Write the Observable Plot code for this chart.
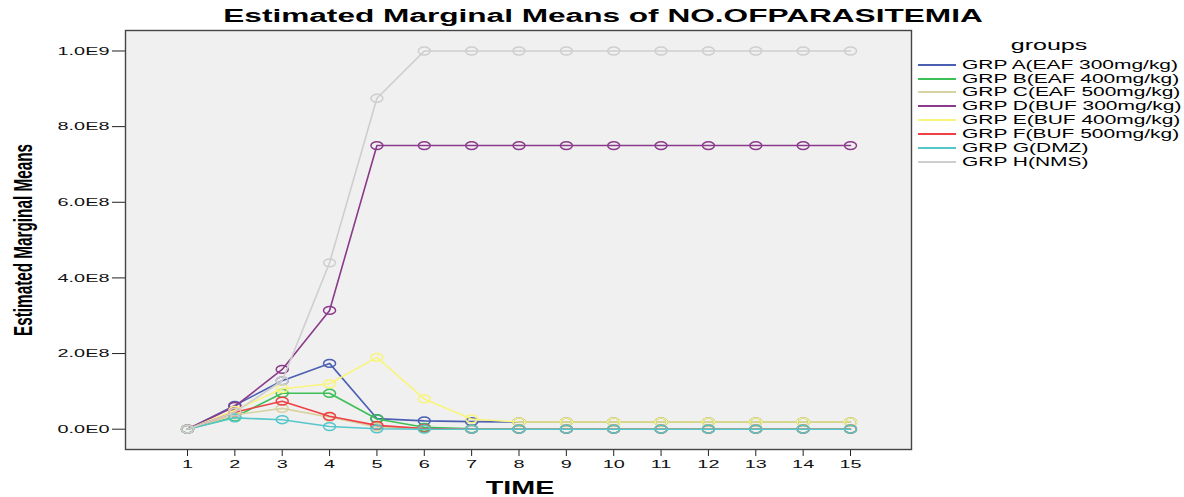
<!DOCTYPE html>
<html><head><meta charset="utf-8">
<script src="https://cdn.jsdelivr.net/npm/d3@7"></script>
<script src="https://cdn.jsdelivr.net/npm/@observablehq/plot@0.6"></script>
<style>
html,body{margin:0;padding:0;background:#fff;}
#wrap{position:relative;width:1184px;height:497px;overflow:hidden;font-family:"Liberation Sans",Arial,sans-serif;}
#wrap svg{position:absolute;left:0;top:0;}
.t{position:absolute;white-space:nowrap;line-height:1;display:inline-block;color:#000;}
.sw{position:absolute;height:2px;}
</style></head><body><div id="wrap"></div>
<script>
// ---- data ----
const times = [1,2,3,4,5,6,7,8,9,10,11,12,13,14,15];
const groups = ["GRP A(EAF 300mg/kg)","GRP B(EAF 400mg/kg)","GRP C(EAF 500mg/kg)","GRP D(BUF 300mg/kg)","GRP E(BUF 400mg/kg)","GRP F(BUF 500mg/kg)","GRP G(DMZ)","GRP H(NMS)"];
const colors = ["#4A5FB2","#3CBF55","#D8D3A2","#8A3A8B","#F8F47C","#EF4045","#55C6C9","#CECECE"];
const grpA = [0,0.63e8,1.28e8,1.74e8,0.28e8,0.22e8,0.20e8,0.19e8,0.19e8,0.19e8,0.19e8,0.19e8,0.19e8,0.19e8,0.19e8];
const grpB = [0,0.32e8,0.95e8,0.95e8,0.27e8,0.05e8,0.01e8,0,0,0,0,0,0,0,0];
const grpC = [0,0.38e8,0.55e8,0.32e8,0.06e8,0.01e8,0,0,0,0,0,0,0,0,0];
const grpD = [0,0.60e8,1.58e8,3.14e8,7.50e8,7.50e8,7.50e8,7.50e8,7.50e8,7.50e8,7.50e8,7.50e8,7.50e8,7.50e8,7.50e8];
const grpE = [0,0.50e8,1.07e8,1.20e8,1.90e8,0.80e8,0.27e8,0.19e8,0.19e8,0.19e8,0.19e8,0.19e8,0.19e8,0.19e8,0.19e8];
const grpF = [0,0.45e8,0.74e8,0.34e8,0.10e8,0.02e8,0,0,0,0,0,0,0,0,0];
const grpG = [0,0.30e8,0.25e8,0.07e8,0.01e8,0,0,0,0,0,0,0,0,0,0];
const grpH = [0,0.45e8,1.28e8,4.40e8,8.75e8,1.0e9,1.0e9,1.0e9,1.0e9,1.0e9,1.0e9,1.0e9,1.0e9,1.0e9,1.0e9];
const series = [grpA,grpB,grpC,grpD,grpE,grpF,grpG,grpH];
const yTicks = [0,2e8,4e8,6e8,8e8,1e9];
const yTickLabels = ["0.0E0","2.0E8","4.0E8","6.0E8","8.0E8","1.0E9"];
const title = "Estimated Marginal Means of NO.OFPARASITEMIA";
const xLabel = "TIME";
const yLabel = "Estimated Marginal Means";
const legendTitle = "groups";

// ---- build ----
const rows = groups.flatMap((g, gi) => times.map((t, i) => ({group: g, time: t, value: series[gi][i]})));

const ellipse = {draw(ctx){ const rx=6, ry=3.9, k=0.5523;
  ctx.moveTo(rx,0);
  ctx.bezierCurveTo(rx, ry*k, rx*k, ry, 0, ry);
  ctx.bezierCurveTo(-rx*k, ry, -rx, ry*k, -rx, 0);
  ctx.bezierCurveTo(-rx, -ry*k, -rx*k, -ry, 0, -ry);
  ctx.bezierCurveTo(rx*k, -ry, rx, -ry*k, rx, 0);
  ctx.closePath(); }};

const seriesMarks = groups.flatMap(g => {
  const d = rows.filter(r => r.group === g);
  return [
    Plot.line(d, {x:"time", y:"value", stroke:"group", strokeWidth:1.6}),
    Plot.dot(d, {x:"time", y:"value", stroke:"group", fill:"none", symbol:ellipse, strokeWidth:1.5})
  ];
});

const chart = Plot.plot({
  width:1184, height:497,
  marginLeft:125, marginRight:273, marginTop:30, marginBottom:48,
  style:{background:"transparent", fontFamily:"Liberation Sans, Arial, sans-serif", fontSize:"11.5px", color:"#111"},
  x:{domain:[-0.309, 16.288]},
  y:{domain:[-0.0537e9, 1.0542e9]},
  color:{domain:groups, range:colors},
  marks:[
    Plot.frame({fill:"#f0f0f0", stroke:null}),
    Plot.axisX({ticks:times, tickSize:7, tickPadding:3, tickFormat:d => String(d), label:null, stroke:"#222"}),
    Plot.axisY({ticks:yTicks, tickSize:13, tickPadding:3, tickFormat:d => yTickLabels[yTicks.indexOf(d)], label:null, stroke:"#222"}),
    ...seriesMarks,
    Plot.frame({stroke:"#444", strokeWidth:1.4})
  ]
});
const wrap = document.getElementById("wrap");
wrap.appendChild(chart);

// stretch tick labels horizontally like the reference
function stretchGroup(sel, scale){
  chart.querySelectorAll(sel).forEach(t => {
    const tr = t.getAttribute("transform") || "";
    t.setAttribute("transform", tr + ` scale(${scale},1)`);
  });
}
const yt = chart.querySelectorAll('g[aria-label="y-axis tick label"] text');
let s = 1.7;
if (yt.length){ const L = yt[yt.length-1].getComputedTextLength(); if (L>0) s = 52/L; }
stretchGroup('g[aria-label="y-axis tick label"] text', s);
stretchGroup('g[aria-label="x-axis tick label"] text', s);

// html texts
function addText(txt, o){
  const el = document.createElement("span");
  el.className = "t";
  el.textContent = txt;
  el.style.fontSize = o.size + "px";
  el.style.fontWeight = o.weight || "normal";
  if (o.family) el.style.fontFamily = o.family;
  wrap.appendChild(el);
  const w = el.offsetWidth;
  const sc = o.scale || (o.width ? o.width / w : 1);
  el.style.top = o.cy + "px";
  if (o.left !== undefined){
    el.style.left = o.left + "px";
    el.style.transformOrigin = "0 50%";
    el.style.transform = `translateY(-50%) scaleX(${sc})`;
  } else {
    el.style.left = o.cx + "px";
    el.style.transform = `translate(-50%,-50%)${o.rotate ? ` rotate(${o.rotate}deg)` : ""} scaleX(${sc})`;
  }
  return sc;
}
addText(title, {cx:603, cy:17, size:17.5, weight:"bold", width:760});
addText(xLabel, {cx:520, cy:489, size:17.5, weight:"bold", width:69});
addText(yLabel, {cx:23, cy:240, size:25, weight:"bold", width:192, rotate:-90});
addText(legendTitle, {cx:1049, cy:45, size:14.5, width:76});
let ls;
groups.forEach((g, i) => {
  const cy = 64.7 + i * 13.85;
  const sw = document.createElement("div");
  sw.className = "sw";
  sw.style.left = "918px"; sw.style.width = "38px"; sw.style.top = (cy - 1) + "px";
  sw.style.background = colors[i];
  wrap.appendChild(sw);
  ls = addText(g, {left:962, cy, size:12.5, width: i === 0 ? 216 : undefined, scale: i === 0 ? undefined : ls});
});
</script></body></html>
